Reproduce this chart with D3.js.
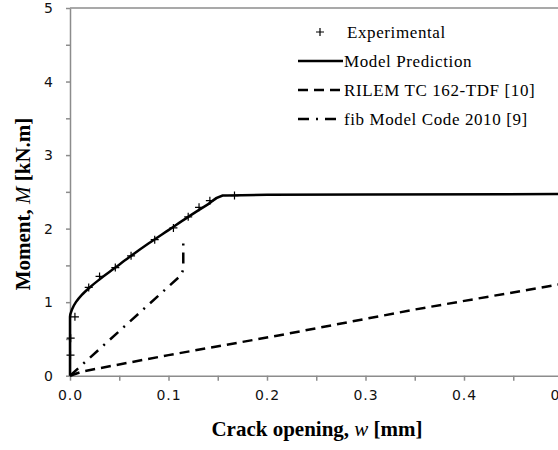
<!DOCTYPE html>
<html>
	<head>
		<style>
			body,
			html {
				margin: 0;
				padding: 0;
				background: #fff;
			}
			#svg {
				display: block;
			}
		</style>
	</head>
	<body>
		<svg id="svg" width="558" height="450"></svg>

		<script src="https://d3js.org/d3.v7.min.js"></script>
		<script>
			// crack opening w [mm] vs moment M [kN.m]
			const expW = [0.0005, 0.0007, 0.005, 0.019, 0.03, 0.046, 0.062, 0.086, 0.105, 0.12, 0.131, 0.142, 0.167];
			const expM = [0.28, 0.51, 0.8, 1.2, 1.35, 1.47, 1.63, 1.85, 2.01, 2.16, 2.29, 2.38, 2.45];

			const modelW = [0, 0, 0.002, 0.006, 0.012, 0.02, 0.03, 0.045, 0.06, 0.08, 0.1, 0.12, 0.14, 0.155, 0.2, 0.3, 0.5];
			const modelM = [0, 0.8, 0.9, 1.0, 1.1, 1.2, 1.31, 1.46, 1.61, 1.8, 1.98, 2.16, 2.33, 2.45, 2.46, 2.465, 2.47];

			const rilemW = [0, 0.0135, 0.1, 0.213, 0.35, 0.5];
			const rilemM = [0, 0.06, 0.28, 0.55, 0.9, 1.25];

			const fibW = [0, 0.113, 0.115, 0.115];
			const fibM = [0, 1.37, 1.45, 1.8];

			const xTicks = [0, 0.1, 0.2, 0.3, 0.4, 0.5];
			const yTicks = [0, 1, 2, 3, 4, 5];

			const legendLabels = ['Experimental', 'Model Prediction', 'RILEM TC 162-TDF [10]', 'fib Model Code 2010 [9]'];

			const zip = (xs, ys) => xs.map((x, i) => ({ w: x, m: ys[i] }));

			const svg = d3.select('#svg');
			const serif = '"Liberation Serif", "Times New Roman", serif';
			const sans = '"DejaVu Sans", sans-serif';
			const axisGrey = '#8c8c8c';

			const x = d3.scaleLinear().domain([0, 0.5]).range([70, 562.5]);
			const y = d3.scaleLinear().domain([0, 5]).range([375.7, 8]);

			// top frame line
			svg
				.append('line')
				.attr('x1', x(0))
				.attr('x2', x(0.5))
				.attr('y1', y(5))
				.attr('y2', y(5))
				.attr('stroke', axisGrey)
				.attr('stroke-width', 1.5);

			// x axis, minor ticks every 0.05
			const xAxis = svg
				.append('g')
				.attr('transform', `translate(0, ${y(0)})`)
				.call(
					d3
						.axisBottom(x)
						.tickValues(d3.range(0, 0.501, 0.05))
						.tickSize(5)
						.tickSizeOuter(0)
						.tickFormat((d) => (xTicks.some((t) => Math.abs(t - d) < 1e-9) ? d3.format('.1f')(d) : ''))
				);
			xAxis.selectAll('path, line').attr('stroke', axisGrey).attr('stroke-width', 1.5);
			xAxis
				.selectAll('text')
				.attr('font-family', sans)
				.attr('font-size', 14)
				.attr('letter-spacing', 1)
				.attr('fill', '#111')
				.attr('dy', '1.15em');

			// y axis, minor ticks every 0.5
			const yAxis = svg
				.append('g')
				.attr('transform', `translate(${x(0)}, 0)`)
				.call(
					d3
						.axisLeft(y)
						.tickValues(d3.range(0, 5.01, 0.5))
						.tickSize(4)
						.tickSizeOuter(0)
						.tickFormat((d) => (yTicks.includes(d) ? d : ''))
				);
			yAxis.selectAll('path, line').attr('stroke', axisGrey).attr('stroke-width', 1.5);
			yAxis
				.selectAll('text')
				.attr('font-family', sans)
				.attr('font-size', 14)
				.attr('fill', '#111')
				.attr('x', -17);

			const line = d3
				.line()
				.x((d) => x(d.w))
				.y((d) => y(d.m));

			const plot = svg.append('g');

			plot
				.append('path')
				.attr('d', line(zip(rilemW, rilemM)))
				.attr('fill', 'none')
				.attr('stroke', '#000')
				.attr('stroke-width', 2.5)
				.attr('stroke-dasharray', '10,6');

			plot
				.append('path')
				.attr('d', line(zip(fibW, fibM)))
				.attr('fill', 'none')
				.attr('stroke', '#000')
				.attr('stroke-width', 2.5)
				.attr('stroke-dasharray', '11,7,2,7');

			const modelLine = d3
				.line()
				.x((d) => x(d.w))
				.y((d) => y(d.m))
				.curve(d3.curveMonotoneY);
			plot
				.append('path')
				.attr('d', modelLine(zip(modelW, modelM)))
				.attr('fill', 'none')
				.attr('stroke', '#000')
				.attr('stroke-width', 2.5);

			plot
				.selectAll('.exp')
				.data(zip(expW, expM))
				.enter()
				.append('path')
				.attr('class', 'exp')
				.attr('transform', (d) => `translate(${x(d.w)}, ${y(d.m)})`)
				.attr('d', 'M-4,0H4M0,-4V4')
				.attr('stroke', '#000')
				.attr('stroke-width', 1.2)
				.attr('fill', 'none');

			// legend
			const legend = svg.append('g').attr('transform', 'translate(298, 32)');
			const rowGap = 29;
			legendLabels.forEach((label, i) => {
				const row = legend.append('g').attr('transform', `translate(0, ${i * rowGap})`);
				if (i === 0) {
					row
						.append('path')
						.attr('d', 'M18,0H26M22,-4V4')
						.attr('stroke', '#000')
						.attr('stroke-width', 1.2);
				} else {
					row
						.append('line')
						.attr('x1', 0)
						.attr('x2', 45)
						.attr('stroke', '#000')
						.attr('stroke-width', 2.5)
						.attr('stroke-dasharray', i === 2 ? '10,6' : i === 3 ? '11,7,2,7' : null);
				}
				row
					.append('text')
					.attr('x', i === 0 ? 49 : 46)
					.attr('dy', '0.35em')
					.attr('font-family', serif)
					.attr('font-size', 17)
					.attr('letter-spacing', 0.6)
					.text(label);
			});

			// axis titles
			svg
				.append('text')
				.attr('x', 317)
				.attr('y', 436)
				.attr('text-anchor', 'middle')
				.attr('font-family', serif)
				.attr('font-size', 21)
				.attr('font-weight', 'bold')
				.html('Crack opening, <tspan font-style="italic" font-weight="normal">w</tspan> [mm]');

			svg
				.append('text')
				.attr('transform', 'translate(30, 204) rotate(-90)')
				.attr('text-anchor', 'middle')
				.attr('font-family', serif)
				.attr('font-size', 21)
				.attr('font-weight', 'bold')
				.html('Moment, <tspan font-style="italic" font-weight="normal">M</tspan> [kN.m]');
		</script>
</body>
</html>
